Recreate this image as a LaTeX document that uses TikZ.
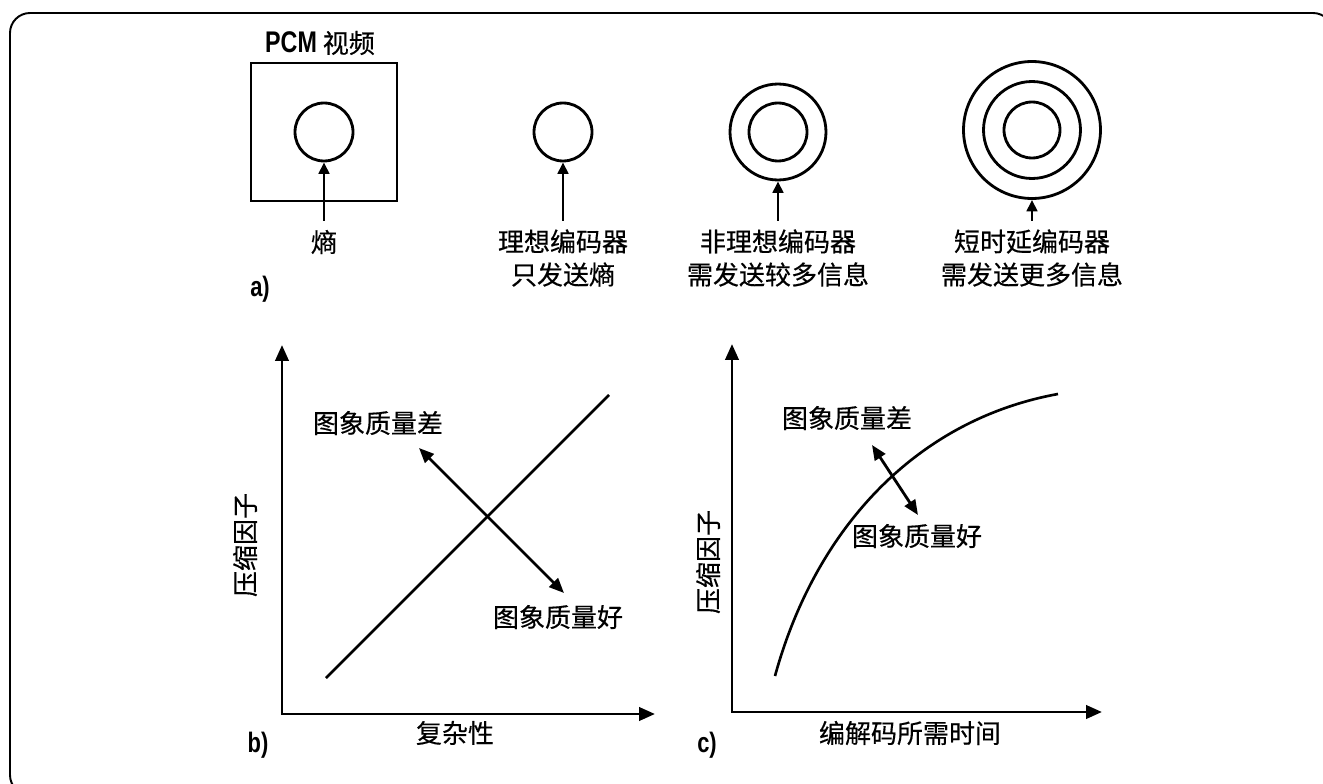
\documentclass[tikz,border=0pt]{standalone}
\usepackage{fontspec}
\setmainfont[FakeBold=0.4]{Noto Sans CJK SC}
\newfontfamily\tagfont[FakeStretch=0.78]{Liberation Sans}
\usetikzlibrary{arrows.meta}

\begin{document}
\begin{tikzpicture}[x=0.02cm, y=-0.02cm]
    % Define styles
    \tikzset{
        ring/.style={
            draw,
            circle,
            line width=1.6pt,
            inner sep=0pt
        },
        axis/.style={
            line width=1.7pt,
            {Triangle[length=9pt, width=7.5pt]}-{Triangle[length=9pt, width=7.5pt]}
        },
        pointer/.style={
            line width=1.6pt,
            -{Triangle[length=6.5pt, width=6pt]}
        },
        twoway/.style={
            line width=1.6pt,
            {Triangle[length=8.5pt, width=7pt]}-{Triangle[length=8.5pt, width=7pt]}
        },
        curve/.style={
            line width=1.5pt
        },
        label/.style={
            font=\fontsize{14.8}{18.8}\selectfont,
            inner sep=0pt,
            align=center
        },
        tag/.style={
            font=\tagfont\bfseries\fontsize{16}{18}\selectfont,
            inner sep=0pt
        }
    }

    % Page and outer frame
    \useasboundingbox (0,0) rectangle (1323,784);
    \clip (0,0) rectangle (1323,784);
    \draw[line width=1.1pt, rounded corners=0.4cm] (10,13) rectangle (1333,795);

    % Panel a: entropy and coder overhead
    \node[label] (pcm) at (320,43) {{\tagfont\bfseries\fontsize{17}{19}\selectfont PCM} 视频};
    \node[draw, line width=1.6pt, minimum width=2.92cm, minimum height=2.76cm, inner sep=0pt] (video) at (324,132) {};
    \node[ring, minimum size=1.16cm] (c1) at (324,132) {};
    \node[ring, minimum size=1.16cm] (c2) at (563,132) {};
    \node[ring, minimum size=1.16cm] (c3) at (778,132) {};
    \node[ring, minimum size=1.92cm] (c3o) at (778,132) {};
    \node[ring, minimum size=1.12cm] (c4) at (1032,130) {};
    \node[ring, minimum size=1.94cm] (c4m) at (1032,130) {};
    \node[ring, minimum size=2.74cm] (c4o) at (1032,130) {};

    % Pointers from below
    \foreach \n/\x/\t in {s1/324/c1, s2/563/c2, s3/778/c3o, s4/1032/c4o} {
        \coordinate (\n) at (\x,221);
        \draw[pointer] (\n) -- (\t.south);
    }

    % Labels under the rings
    \node[label] (entropy) at (324,242) {熵};
    \node[label] (ideal) at (563,258) {理想编码器\\只发送熵};
    \node[label] (real) at (778,258) {非理想编码器\\需发送较多信息};
    \node[label] (lowdelay) at (1032,258) {短时延编码器\\需发送更多信息};
    \node[tag] (taga) at (260,289) {a)};

    % Panel b: compression vs complexity
    \coordinate (ob) at (282,714);
    \coordinate (yb) at (282,345);
    \coordinate (xb) at (655,714);
    \draw[axis] (yb) -- (ob) -- (xb);
    \draw[curve] (326,678) -- (609,395);
    \coordinate (bpoor) at (419,448);
    \coordinate (bgood) at (564,593);
    \draw[twoway] (bpoor) -- (bgood);
    \node[label] (bpoorlbl) at (378,423) {图象质量差};
    \node[label] (bgoodlbl) at (558,617) {图象质量好};
    \node[label] (bx) at (455,733) {复杂性};
    \node[label, rotate=90] (by) at (245,545) {压缩因子};
    \node[tag] (tagb) at (258,745) {b)};

    % Panel c: compression vs coding time
    \coordinate (oc) at (732,712);
    \coordinate (yc) at (732,344);
    \coordinate (xc) at (1102,712);
    \draw[axis] (yc) -- (oc) -- (xc);
    \draw[curve] (775,676) .. controls (815,530) and (915,420) .. (1058,394);
    \coordinate (cpoor) at (872,445);
    \coordinate (cgood) at (918,515);
    \draw[twoway] (cpoor) -- (cgood);
    \node[label] (cpoorlbl) at (847,418) {图象质量差};
    \node[label] (cgoodlbl) at (917,536) {图象质量好};
    \node[label] (cx) at (910,733) {编解码所需时间};
    \node[label, rotate=90] (cy) at (708,562) {压缩因子};
    \node[tag] (tagc) at (707,745) {c)};

\end{tikzpicture}
\end{document}
